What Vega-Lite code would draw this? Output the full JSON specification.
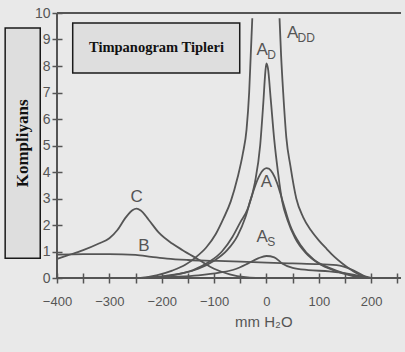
{
  "$schema": "https://vega.github.io/schema/vega-lite/v6.json",
  "width": 344,
  "height": 265,
  "autosize": "none",
  "padding": {"left": 57, "top": 13, "right": 4, "bottom": 74},
  "background": "#e9e9e9",
  "config": {"view": {"stroke": null}},
  "datasets": {
    "curves": [
      {"s": "C", "x": -400, "y": 0.72}, {"s": "C", "x": -380, "y": 0.85}, {"s": "C", "x": -350, "y": 1.05}, {"s": "C", "x": -320, "y": 1.3}, {"s": "C", "x": -300, "y": 1.5}, {"s": "C", "x": -285, "y": 1.8}, {"s": "C", "x": -270, "y": 2.25}, {"s": "C", "x": -256, "y": 2.56}, {"s": "C", "x": -248, "y": 2.62}, {"s": "C", "x": -240, "y": 2.55}, {"s": "C", "x": -225, "y": 2.2}, {"s": "C", "x": -205, "y": 1.7}, {"s": "C", "x": -180, "y": 1.3}, {"s": "C", "x": -160, "y": 1.05}, {"s": "C", "x": -130, "y": 0.7}, {"s": "C", "x": -100, "y": 0.35}, {"s": "C", "x": -70, "y": 0.14}, {"s": "C", "x": -40, "y": 0.03}, {"s": "C", "x": -20, "y": 0},
      {"s": "B", "x": -400, "y": 0.88}, {"s": "B", "x": -350, "y": 0.9}, {"s": "B", "x": -300, "y": 0.9}, {"s": "B", "x": -250, "y": 0.87}, {"s": "B", "x": -220, "y": 0.8}, {"s": "B", "x": -190, "y": 0.73}, {"s": "B", "x": -150, "y": 0.68}, {"s": "B", "x": -100, "y": 0.65}, {"s": "B", "x": -50, "y": 0.62}, {"s": "B", "x": 0, "y": 0.58}, {"s": "B", "x": 50, "y": 0.55}, {"s": "B", "x": 100, "y": 0.52}, {"s": "B", "x": 140, "y": 0.47}, {"s": "B", "x": 165, "y": 0.3}, {"s": "B", "x": 190, "y": 0.05}, {"s": "B", "x": 200, "y": 0},
      {"s": "As", "x": -230, "y": 0}, {"s": "As", "x": -180, "y": 0.04}, {"s": "As", "x": -130, "y": 0.1}, {"s": "As", "x": -90, "y": 0.2}, {"s": "As", "x": -60, "y": 0.33}, {"s": "As", "x": -35, "y": 0.55}, {"s": "As", "x": -15, "y": 0.75}, {"s": "As", "x": 0, "y": 0.83}, {"s": "As", "x": 15, "y": 0.78}, {"s": "As", "x": 30, "y": 0.55}, {"s": "As", "x": 50, "y": 0.38}, {"s": "As", "x": 80, "y": 0.3}, {"s": "As", "x": 120, "y": 0.25}, {"s": "As", "x": 160, "y": 0.15}, {"s": "As", "x": 190, "y": 0.02},
      {"s": "A", "x": -240, "y": 0}, {"s": "A", "x": -200, "y": 0.06}, {"s": "A", "x": -160, "y": 0.18}, {"s": "A", "x": -130, "y": 0.35}, {"s": "A", "x": -100, "y": 0.65}, {"s": "A", "x": -75, "y": 1.05}, {"s": "A", "x": -55, "y": 1.6}, {"s": "A", "x": -40, "y": 2.3}, {"s": "A", "x": -28, "y": 3.1}, {"s": "A", "x": -15, "y": 3.8}, {"s": "A", "x": -5, "y": 4.1}, {"s": "A", "x": 0, "y": 4.15}, {"s": "A", "x": 5, "y": 4.12}, {"s": "A", "x": 12, "y": 3.95}, {"s": "A", "x": 20, "y": 3.6}, {"s": "A", "x": 31, "y": 2.9}, {"s": "A", "x": 45, "y": 2.0}, {"s": "A", "x": 65, "y": 1.25}, {"s": "A", "x": 90, "y": 0.7}, {"s": "A", "x": 120, "y": 0.38}, {"s": "A", "x": 150, "y": 0.17}, {"s": "A", "x": 180, "y": 0.04}, {"s": "A", "x": 195, "y": 0},
      {"s": "AD", "x": -220, "y": 0}, {"s": "AD", "x": -180, "y": 0.1}, {"s": "AD", "x": -140, "y": 0.3}, {"s": "AD", "x": -110, "y": 0.6}, {"s": "AD", "x": -85, "y": 1.0}, {"s": "AD", "x": -65, "y": 1.55}, {"s": "AD", "x": -50, "y": 2.1}, {"s": "AD", "x": -36, "y": 2.6}, {"s": "AD", "x": -22, "y": 3.6}, {"s": "AD", "x": -12, "y": 5.0}, {"s": "AD", "x": -6, "y": 6.6}, {"s": "AD", "x": -2, "y": 7.8}, {"s": "AD", "x": 0, "y": 8.1}, {"s": "AD", "x": 3, "y": 7.9}, {"s": "AD", "x": 8, "y": 6.8}, {"s": "AD", "x": 15, "y": 5.2}, {"s": "AD", "x": 22, "y": 4.0}, {"s": "AD", "x": 30, "y": 2.9}, {"s": "AD", "x": 40, "y": 2.2}, {"s": "AD", "x": 55, "y": 1.5}, {"s": "AD", "x": 75, "y": 0.95}, {"s": "AD", "x": 100, "y": 0.55}, {"s": "AD", "x": 130, "y": 0.28}, {"s": "AD", "x": 160, "y": 0.1}, {"s": "AD", "x": 190, "y": 0},
      {"s": "ADDL", "x": -240, "y": 0}, {"s": "ADDL", "x": -210, "y": 0.1}, {"s": "ADDL", "x": -180, "y": 0.28}, {"s": "ADDL", "x": -155, "y": 0.5}, {"s": "ADDL", "x": -135, "y": 0.78}, {"s": "ADDL", "x": -115, "y": 1.15}, {"s": "ADDL", "x": -97, "y": 1.65}, {"s": "ADDL", "x": -82, "y": 2.25}, {"s": "ADDL", "x": -68, "y": 2.9}, {"s": "ADDL", "x": -55, "y": 3.8}, {"s": "ADDL", "x": -45, "y": 4.7}, {"s": "ADDL", "x": -38, "y": 5.6}, {"s": "ADDL", "x": -33, "y": 7.0}, {"s": "ADDL", "x": -30, "y": 8.4}, {"s": "ADDL", "x": -27, "y": 9.8},
      {"s": "ADDR", "x": 25, "y": 9.8}, {"s": "ADDR", "x": 28, "y": 8.4}, {"s": "ADDR", "x": 32, "y": 7.0}, {"s": "ADDR", "x": 38, "y": 5.3}, {"s": "ADDR", "x": 46, "y": 4.2}, {"s": "ADDR", "x": 57, "y": 3.0}, {"s": "ADDR", "x": 70, "y": 2.3}, {"s": "ADDR", "x": 85, "y": 1.8}, {"s": "ADDR", "x": 100, "y": 1.42}, {"s": "ADDR", "x": 115, "y": 1.1}, {"s": "ADDR", "x": 130, "y": 0.8}, {"s": "ADDR", "x": 145, "y": 0.55}, {"s": "ADDR", "x": 160, "y": 0.33}, {"s": "ADDR", "x": 175, "y": 0.15}, {"s": "ADDR", "x": 195, "y": 0}
    ],
    "labels": [
      {"x": -248, "y": 3.06, "t": "C", "sub": ""},
      {"x": -234, "y": 1.21, "t": "B", "sub": ""},
      {"x": 0, "y": 3.62, "t": "A", "sub": ""},
      {"x": -8, "y": 1.55, "t": "A", "sub": "S"},
      {"x": -8, "y": 8.6, "t": "A", "sub": "D"},
      {"x": 50, "y": 9.25, "t": "A", "sub": "DD"}
    ],
    "frame": [
      {"x": -400, "x2": 257, "y": 0, "y2": 0},
      {"x": -400, "x2": 257, "y": 10, "y2": 10},
      {"x": -400, "x2": -400, "y": 0, "y2": 10}
    ],
    "boxes": [
      {"x": -499, "x2": -432, "y": 0.75, "y2": 9.43},
      {"x": -370, "x2": -51, "y": 7.74, "y2": 9.62}
    ],
    "texts": [
      {"x": -210, "y": 8.68, "t": "Timpanogram Tipleri", "a": 0, "sz": 14.5},
      {"x": -465, "y": 5.08, "t": "Kompliyans", "a": 270, "sz": 17}
    ],
    "xtitle": [{"x": -5, "y": -1.65, "t": "mm H₂O"}]
  },
  "encoding": {
    "x": {"field": "x", "type": "quantitative", "scale": {"domain": [-400, 257], "nice": false, "zero": false},
      "axis": {"values": [-400, -350, -300, -250, -200, -150, -100, -50, 0, 50, 100, 150, 200, 250], "labelExpr": "datum.value % 100 === 0 ? datum.label : ''", "domain": false, "grid": false, "offset": -5, "tickSize": 10, "tickWidth": 1.5, "tickColor": "#555555", "labelColor": "#555555", "labelFont": "Liberation Sans", "labelFontSize": 13, "labelPadding": 12, "title": null, "labelFlush": false, "labelOverlap": false}},
    "y": {"field": "y", "type": "quantitative", "scale": {"domain": [0, 10], "nice": false, "zero": false},
      "axis": {"values": [0, 1, 2, 3, 4, 5, 6, 7, 8, 9, 10], "domain": false, "grid": false, "offset": -5, "tickSize": 10, "tickWidth": 1.5, "tickColor": "#555555", "labelColor": "#555555", "labelFont": "Liberation Sans", "labelFontSize": 14, "labelPadding": 2, "title": null, "labelFlush": false, "labelOverlap": false}}
  },
  "layer": [
    {
      "data": {"name": "boxes"},
      "mark": {"type": "rect", "fill": "#dedede", "stroke": "#1a1a1a", "strokeWidth": 1.5},
      "encoding": {
        "x2": {"field": "x2"},
        "y2": {"field": "y2"}
      }
    },
    {
      "data": {"name": "texts"},
      "mark": {"type": "text", "font": "Liberation Serif", "fontWeight": "bold", "color": "#111111", "align": "center", "baseline": "middle"},
      "encoding": {
        "text": {"field": "t"},
        "angle": {"field": "a", "type": "quantitative", "scale": null},
        "size": {"field": "sz", "type": "quantitative", "scale": null}
      }
    },
    {
      "data": {"name": "frame"},
      "mark": {"type": "rule", "color": "#555555", "strokeWidth": 2},
      "encoding": {
        "x2": {"field": "x2"},
        "y2": {"field": "y2"}
      }
    },
    {
      "data": {"name": "curves"},
      "mark": {"type": "line", "color": "#555555", "strokeWidth": 1.8, "interpolate": "monotone"},
      "encoding": {
        "detail": {"field": "s", "type": "nominal"}
      }
    },
    {
      "data": {"name": "labels"},
      "mark": {"type": "text", "font": "Liberation Sans", "fontSize": 17, "color": "#555555", "align": "center", "baseline": "middle"},
      "encoding": {
        "text": {"field": "t"}
      }
    },
    {
      "data": {"name": "labels"},
      "mark": {"type": "text", "font": "Liberation Sans", "fontSize": 12, "color": "#555555", "align": "left", "baseline": "middle", "dx": 5, "dy": 5},
      "encoding": {
        "text": {"field": "sub"}
      }
    },
    {
      "data": {"name": "xtitle"},
      "mark": {"type": "text", "font": "Liberation Sans", "fontSize": 15, "color": "#555555", "align": "center", "baseline": "middle"},
      "encoding": {
        "text": {"field": "t"}
      }
    }
  ]
}
